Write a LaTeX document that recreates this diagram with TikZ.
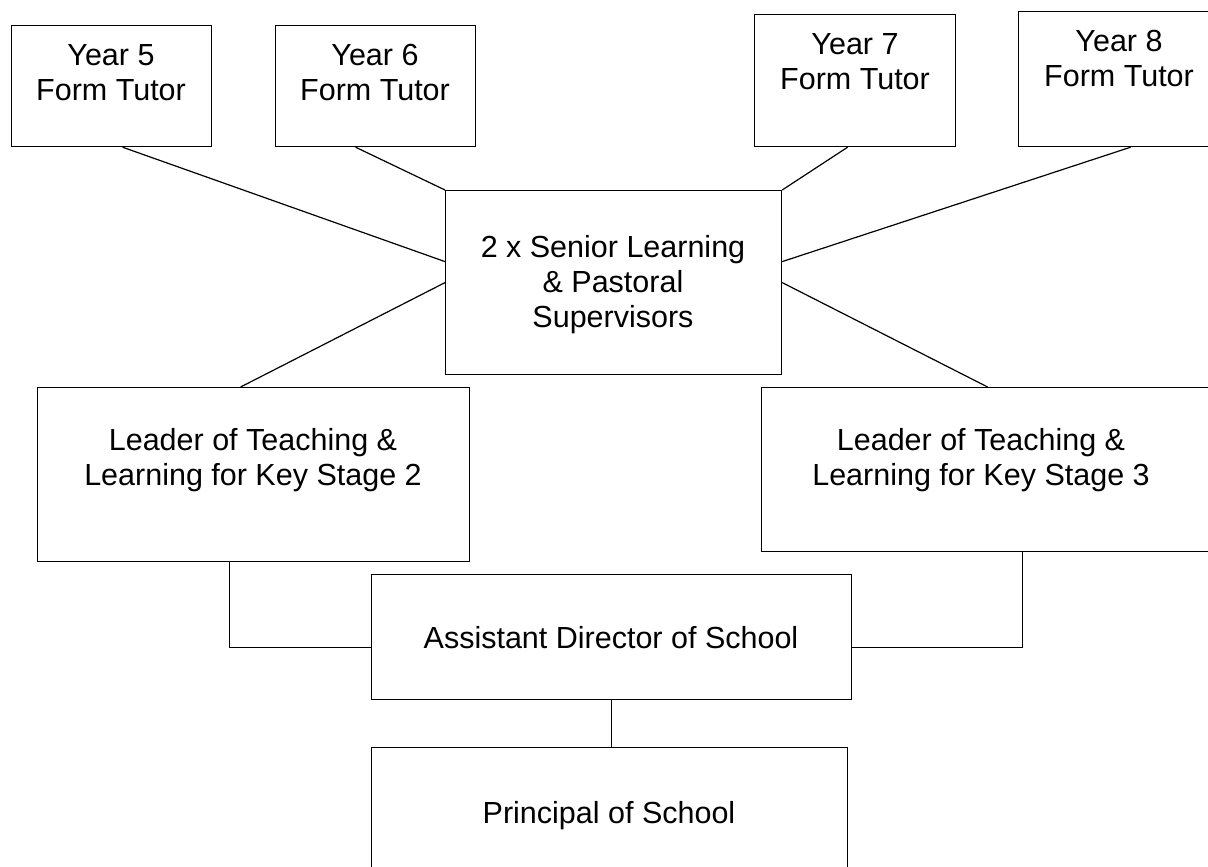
\documentclass[tikz,border=0pt]{standalone}
\usepackage{fontspec}
\setmainfont{Liberation Sans}
\begin{document}
\begin{tikzpicture}[x=1pt,y=-1pt,
  box/.style={draw, line width=1.2pt, inner sep=0pt, anchor=north west},
  txt/.style={font=\fontsize{30.5}{35}\selectfont, align=center, inner sep=0pt},
  conn/.style={line width=1.2pt}]
\useasboundingbox (0,0) rectangle (1208,867);
\fill[white] (0,0) rectangle (1208,867);
% boxes
\node[box, minimum width=200pt, minimum height=121pt] (y5) at (11,25) {};
\node[box, minimum width=200pt, minimum height=121pt] (y6) at (275,25) {};
\node[box, minimum width=201pt, minimum height=132pt] (y7) at (754,14) {};
\node[box, minimum width=202pt, minimum height=135pt] (y8) at (1018,11) {};
\node[box, minimum width=336pt, minimum height=184pt] (c) at (445,190) {};
\node[box, minimum width=432pt, minimum height=174pt] (ks2) at (37,387) {};
\node[box, minimum width=459pt, minimum height=164pt] (ks3) at (761,387) {};
\node[box, minimum width=480pt, minimum height=125pt] (asst) at (371,574) {};
\node[box, minimum width=476pt, minimum height=143pt] (prin) at (371,747) {};
% texts
\node[txt] (y5t) at (111,75.5) {\strut Year 5\\\strut Form Tutor};
\node[txt] (y6t) at (375,75.5) {\strut Year 6\\\strut Form Tutor};
\node[txt] (y7t) at (855,64.5) {\strut Year 7\\\strut Form Tutor};
\node[txt] (y8t) at (1119,61.5) {\strut Year 8\\\strut Form Tutor};
\node[txt] (ct) at (613,285) {\strut 2 x Senior Learning\\\strut \& Pastoral\\\strut Supervisors};
\node[txt] (ks2t) at (253,461) {\strut Leader of Teaching \&\\\strut Learning for Key Stage 2};
\node[txt] (ks3t) at (981,460.5) {\strut Leader of Teaching \&\\\strut Learning for Key Stage 3};
\node[txt] (asstt) at (611,641) {\strut Assistant Director of School};
\node[txt] (print) at (609,816) {\strut Principal of School};
% connectors
\draw[conn] ([xshift=11pt]y5.south) -- ([yshift=21pt]c.west);
\draw[conn] ([xshift=-20pt]y6.south) -- (c.north west);
\draw[conn] ([xshift=-7.5pt]y7.south) -- (c.north east);
\draw[conn] ([xshift=11pt]y8.south) -- ([yshift=21pt]c.east);
\draw[conn] (c.west) -- ([xshift=-13pt]ks2.north);
\draw[conn] (c.east) -- ([xshift=-3.5pt]ks3.north);
\draw[conn] ([xshift=-24pt]ks2.south) |- ([yshift=-10.5pt]asst.west);
\draw[conn] ([xshift=31.5pt]ks3.south) |- ([yshift=-10.5pt]asst.east);
\draw[conn] (asst.south) -- (asst.south |- prin.north);
\end{tikzpicture}
\end{document}
